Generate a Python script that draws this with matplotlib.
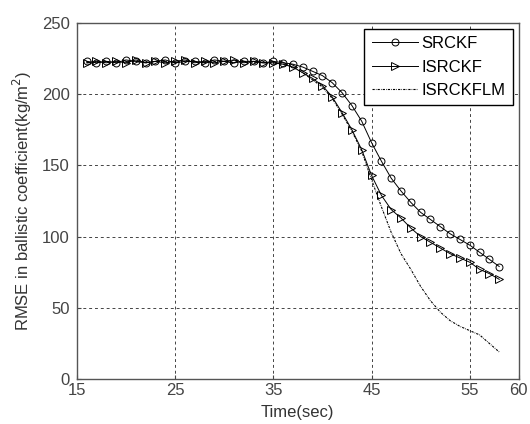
import matplotlib
matplotlib.use('Agg')
import matplotlib.pyplot as plt

plt.rcParams['font.family'] = ['Liberation Sans', 'DejaVu Sans']

# time axis (sec)
t = list(range(16, 59))

# RMSE in ballistic coefficient
srckf = [223, 222, 223, 222, 224, 223, 222, 223, 224, 222, 223, 223, 222, 224, 223, 222, 223, 223, 222, 223,
         222, 221, 219, 216, 213, 208, 201, 192, 181, 166, 153, 141, 132, 124, 117, 112, 107, 102, 98, 94, 89, 84, 79]
isrckf = [222, 223, 222, 223, 222, 224, 222, 223, 222, 223, 224, 222, 223, 222, 223, 224, 222, 223, 222, 222,
          221, 219, 215, 211, 206, 198, 187, 175, 161, 143, 129, 119, 113, 106, 100, 96, 92, 88, 85, 82, 77, 74, 70]
isrckflm = [222, 222, 223, 222, 223, 223, 222, 223, 223, 222, 223, 223, 222, 223, 223, 222, 223, 222, 222, 222,
            221, 219, 215, 210, 205, 197, 186, 174, 160, 140, 121, 103, 88, 77, 65, 55, 47, 41, 37, 34, 31, 25, 19]

fig = plt.figure(figsize=(5.3, 4.24), dpi=100)
ax = fig.add_axes([0.145, 0.106, 0.834, 0.840])

ax.plot(t, srckf, color='black', lw=0.7, marker='o', ms=5, mfc='none', mew=0.7, label='SRCKF')
ax.plot(t, isrckf, color='black', lw=0.7, marker='>', ms=5.5, mfc='none', mew=0.7, label='ISRCKF')
ax.plot(t, isrckflm, color='black', lw=0.8, ls=(0, (2, 1, 0.6, 1)), label='ISRCKFLM')

ax.set_xlim(15, 60)
ax.set_ylim(0, 250)
ax.set_xticks([15, 25, 35, 45, 55, 60])
ax.set_yticks([0, 50, 100, 150, 200, 250])
ax.tick_params(direction='in', length=3, labelsize=12, colors='#444444')
ax.tick_params(axis='y', pad=5)
ax.tick_params(axis='x', pad=3)
ax.grid(True, color='#444444', ls=(0, (3, 3)), lw=0.7)
for s in ax.spines.values():
    s.set_color('#555555')
    s.set_linewidth(1.0)

ax.set_xlabel('Time(sec)', fontsize=12, color='#333333', labelpad=5)
ax.set_ylabel('RMSE in ballistic coefficient(kg/m$^2$)', fontsize=12, color='#333333', labelpad=6)

leg = ax.legend(loc='upper right', fontsize=12, fancybox=False, edgecolor='black', framealpha=1,
                borderaxespad=0.35, handlelength=2.8, handletextpad=0.2, borderpad=0.45, labelspacing=0.5)
leg.get_frame().set_linewidth(1.0)

fig.savefig('out.png', dpi=100)
